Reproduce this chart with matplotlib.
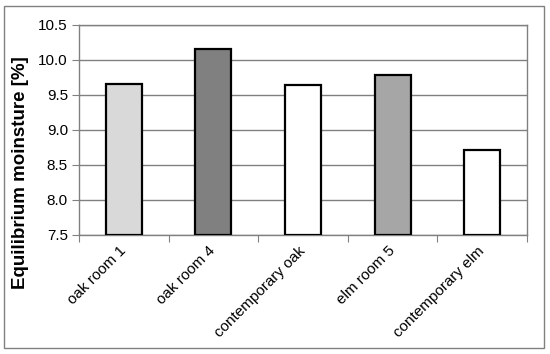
import numpy as np
import matplotlib.pyplot as plt
from matplotlib.patches import Rectangle

# Data
categories = ['oak room 1', 'oak room 4', 'contemporary oak', 'elm room 5', 'contemporary elm']
values = [9.66, 10.15, 9.64, 9.78, 8.71]
colors = ['#d9d9d9', '#808080', '#ffffff', '#a6a6a6', '#ffffff']
yticks = [7.5, 8.0, 8.5, 9.0, 9.5, 10.0, 10.5]

plt.rcParams['font.family'] = ['Liberation Sans', 'DejaVu Sans']

W, H = 550, 354
fig = plt.figure(figsize=(W / 100, H / 100), dpi=100)
ax = fig.add_axes([79 / W, 1 - 235 / H, (527 - 79) / W, (235 - 24.7) / H])

x = np.arange(len(categories))
ax.bar(x, [v - 7.5 for v in values], bottom=7.5, width=0.4, color=colors,
       edgecolor='black', linewidth=1.6, zorder=3)

ax.set_xlim(-0.5, len(categories) - 0.5)
ax.set_ylim(7.5, 10.5)
ax.set_yticks(yticks)
ax.set_yticklabels(['%.1f' % t for t in yticks], fontsize=11)
ax.yaxis.grid(True, color='#808080', linewidth=1.0, zorder=0)

# x ticks at category boundaries, labels centered on bars
ax.set_xticks(np.arange(len(categories) + 1) - 0.5)
ax.set_xticklabels([])
ax.set_xticks(x, minor=True)
ax.set_xticklabels(categories, minor=True, rotation=45, ha='right', va='center',
                   rotation_mode='anchor', fontsize=11)
ax.tick_params(axis='x', which='minor', length=0, pad=10)
ax.tick_params(axis='x', which='major', length=5, color='#808080')
ax.tick_params(axis='y', length=5, color='#808080', pad=3)

for s in ax.spines.values():
    s.set_color('#808080')
    s.set_linewidth(1.0)

ax.set_ylabel('Equilibrium moinsture [%]', fontsize=13.5, fontweight='bold')
ax.yaxis.set_label_coords(-0.112, 0.295)

# outer chart border
fig.patches.append(Rectangle((4 / W, 1 - 348 / H), 540 / W, 342 / H,
                             transform=fig.transFigure, fill=False,
                             edgecolor='#808080', linewidth=1.0))

fig.savefig('out.png', dpi=100)
